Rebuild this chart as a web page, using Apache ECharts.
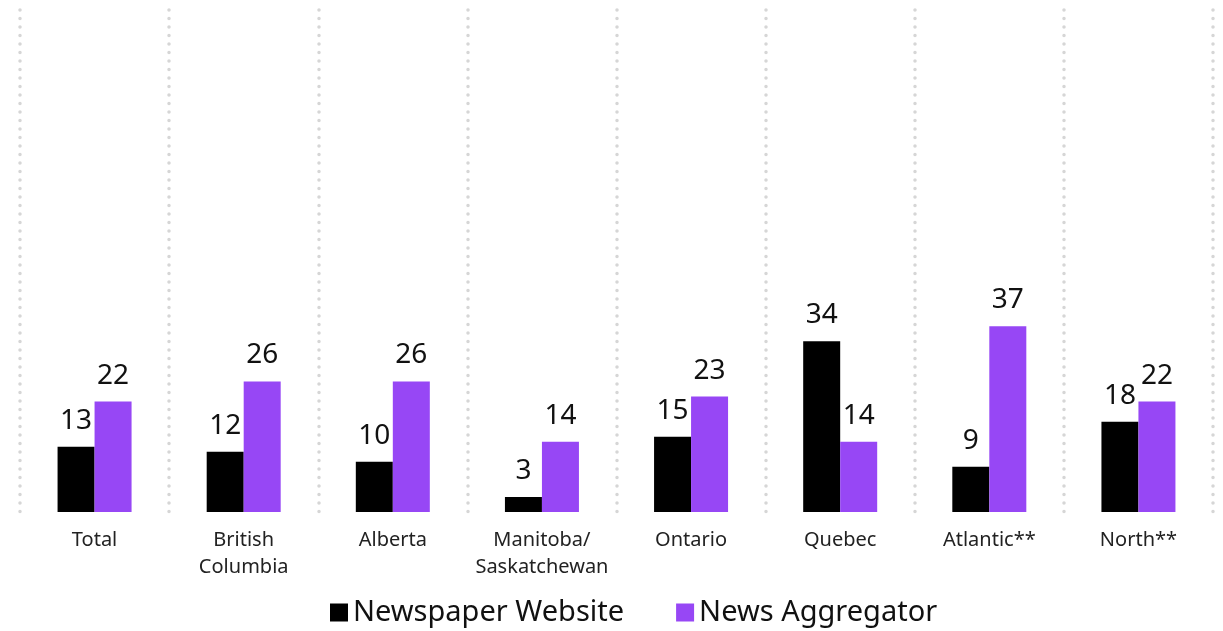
<!DOCTYPE html>
<html>
<head>
<meta charset="utf-8">
<script src="https://cdn.jsdelivr.net/npm/echarts@6/dist/echarts.min.js"></script>
<style>
  html, body { margin: 0; padding: 0; background: #fff; }
  #chart { width: 1223px; height: 631px; }
</style>
</head>
<body>
<div id="chart"></div>
<script>
const regions = ['Total', 'British\nColumbia', 'Alberta', 'Manitoba/\nSaskatchewan', 'Ontario', 'Quebec', 'Atlantic**', 'North**']
const newspaperWebsite = [13, 12, 10, 3, 15, 34, 9, 18]
const newsAggregator = [22, 26, 26, 14, 23, 14, 37, 22]

const chart = echarts.init(document.getElementById('chart'))

const labelStyle = {
  show: true,
  position: 'top',
  distance: 12,
  fontSize: 28,
  color: '#111',
  fontFamily: 'Noto Sans'
}

chart.setOption({
  animation: false,
  textStyle: { fontFamily: 'Noto Sans' },
  grid: { left: 20, right: 10, top: 10, bottom: 119 },
  legend: {
    bottom: -1,
    left: 325,
    itemWidth: 18,
    itemHeight: 18,
    itemGap: 52,
    icon: 'rect',
    textStyle: { fontSize: 29, color: '#111', fontFamily: 'Noto Sans' },
    data: ['Newspaper Website', 'News Aggregator']
  },
  xAxis: {
    type: 'category',
    data: regions,
    axisLine: { show: false },
    axisTick: { show: false },
    axisLabel: { margin: 15, fontSize: 20, color: '#222', lineHeight: 27, interval: 0 },
    splitLine: {
      show: true,
      lineStyle: { color: '#d6d6d6', width: 3.5, type: [0.1, 8.4], cap: 'round' }
    }
  },
  yAxis: {
    type: 'value',
    min: 0,
    max: 100,
    show: false,
    splitLine: { show: false }
  },
  series: [
    {
      name: 'Newspaper Website',
      type: 'bar',
      data: newspaperWebsite,
      barWidth: 37,
      barGap: '0%',
      itemStyle: { color: '#000000' },
      label: labelStyle
    },
    {
      name: 'News Aggregator',
      type: 'bar',
      data: newsAggregator,
      barWidth: 37,
      itemStyle: { color: '#9747F5' },
      label: labelStyle
    }
  ]
})
</script>
</body>
</html>
